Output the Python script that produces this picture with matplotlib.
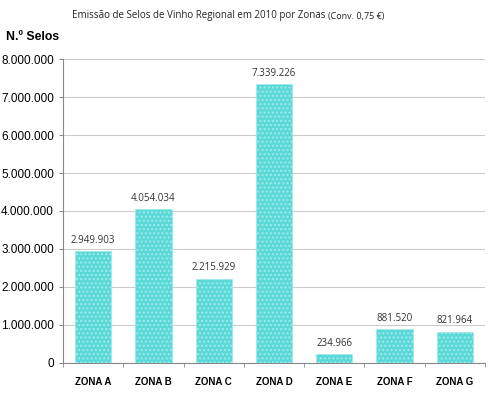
import matplotlib.pyplot as plt
from matplotlib.ticker import FuncFormatter
import numpy as np

zonas = ["ZONA A", "ZONA B", "ZONA C", "ZONA D", "ZONA E", "ZONA F", "ZONA G"]
selos = [2949903, 4054034, 2215929, 7339226, 234966, 881520, 821964]
yticks = [0, 1000000, 2000000, 3000000, 4000000, 5000000, 6000000, 7000000, 8000000]


def fmt_pt(v):
    return f"{int(v):,}".replace(",", ".")


fig = plt.figure(figsize=(5, 3.94), dpi=100)
ax = fig.add_axes([0.126, 0.079, 0.844, 0.771])

x = np.arange(len(zonas))
bars = ax.bar(x, selos, width=0.6, color="#5ad8d8", edgecolor="#9eeaea",
              linewidth=0.5, hatch="....", zorder=3)

for xi, v in zip(x, selos):
    ax.text(xi, v + 140000, fmt_pt(v), ha="center", va="bottom",
            fontsize=7, color="#333333", family="Open Sans")

ax.set_xlim(-0.5, len(zonas) - 0.5)
ax.set_ylim(0, 8000000)
ax.set_yticks(yticks)
ax.yaxis.set_major_formatter(FuncFormatter(lambda v, p: fmt_pt(v)))
ax.set_xticks(x)
ax.set_xticklabels(zonas, fontsize=7, fontweight="bold", family="Liberation Sans")
ax.set_xticks(np.arange(len(zonas) + 1) - 0.5, minor=True)
ax.tick_params(axis="x", which="major", length=0, pad=10)
ax.tick_params(axis="x", which="minor", length=3, color="#888888")
ax.tick_params(axis="y", length=3, color="#888888", labelsize=8.5)
for lab in ax.get_yticklabels():
    lab.set_family("Liberation Sans")

ax.grid(axis="y", color="#cccccc", linewidth=0.8, zorder=0)
for s in ["top", "right"]:
    ax.spines[s].set_visible(False)
ax.spines["left"].set_color("#888888")
ax.spines["bottom"].set_color("#888888")

title = fig.text(0.144, 0.960, "Emissão de Selos de Vinho Regional em 2010 por Zonas",
                 ha="left", va="center", fontsize=7, family="Open Sans", color="#222222")
fig.canvas.draw()
bb = title.get_window_extent().transformed(fig.transFigure.inverted())
fig.text(bb.x1 + 0.004, 0.958, "(Conv. 0,75 €)", ha="left", va="center",
         fontsize=6.5, family="Open Sans", color="#222222")
fig.text(0.012, 0.905, "N.º Selos", ha="left", va="center", fontsize=8.8,
         fontweight="bold", family="Liberation Sans")

fig.savefig("out.png", dpi=100)
